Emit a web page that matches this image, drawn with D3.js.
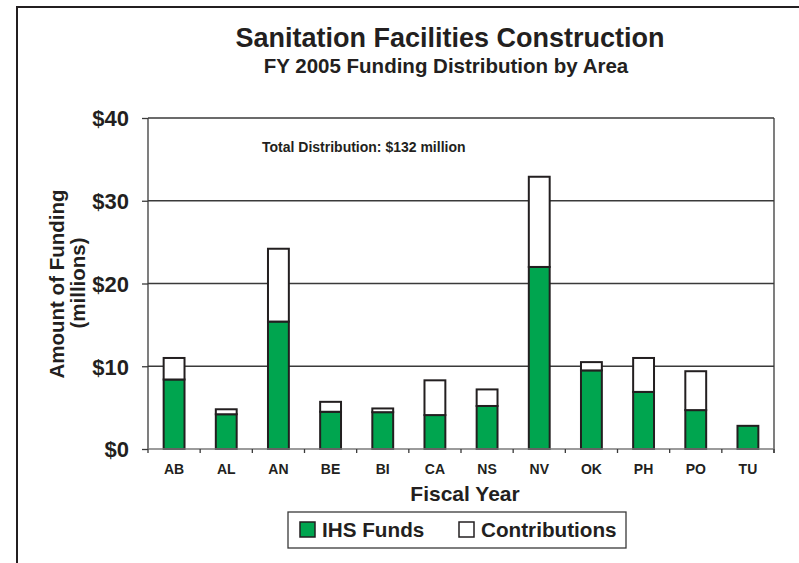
<!DOCTYPE html>
<html>
<head>
<meta charset="utf-8">
<script src="https://cdn.jsdelivr.net/npm/d3@7"></script>
<style>
  body { margin: 0; background: #fff; }
  svg text { font-family: "Liberation Sans", Arial, sans-serif; font-weight: bold; fill: #231f20; }
</style>
</head>
<body>
<div class="chart"></div>
<script>
var areas = ["AB", "AL", "AN", "BE", "BI", "CA", "NS", "NV", "OK", "PH", "PO", "TU"];
var ihsFunds = [8.4, 4.2, 15.4, 4.5, 4.45, 4.1, 5.2, 22.0, 9.5, 6.9, 4.7, 2.8];
var contributions = [2.6, 0.6, 8.8, 1.2, 0.45, 4.2, 2.0, 10.9, 1.0, 4.1, 4.7, 0];
var yTicks = [0, 10, 20, 30, 40];
var seriesNames = ["IHS Funds", "Contributions"];
var seriesColors = ["#00a54f", "#ffffff"];

var svgWidth = 799;
var svgHeight = 563;
var margin = { top: 118, right: 25, bottom: 114, left: 148 };
var width = svgWidth - margin.left - margin.right;
var height = svgHeight - margin.top - margin.bottom;

var svg = d3.select(".chart")
  .append("svg")
  .attr("width", svgWidth)
  .attr("height", svgHeight);

// outer frame (only left and top edges show in the picture)
svg.append("rect")
  .attr("x", 17).attr("y", 7)
  .attr("width", 800).attr("height", 600)
  .attr("fill", "none")
  .attr("stroke", "#231f20")
  .attr("stroke-width", 2);

svg.append("text")
  .attr("x", 450).attr("y", 47)
  .attr("text-anchor", "middle")
  .style("font-size", "27px")
  .text("Sanitation Facilities Construction");

svg.append("text")
  .attr("x", 446).attr("y", 73)
  .attr("text-anchor", "middle")
  .style("font-size", "20.5px")
  .text("FY 2005 Funding Distribution by Area");

var chart = svg.append("g")
  .attr("transform", "translate(" + margin.left + "," + margin.top + ")");

var x = d3.scaleBand()
  .domain(areas)
  .range([0, width])
  .paddingInner(0.6)
  .paddingOuter(0.3);

var y = d3.scaleLinear()
  .domain([0, 40])
  .range([height, 0]);

// grid lines
chart.selectAll(".grid")
  .data(yTicks.filter(function(d) { return d > 0; }))
  .enter().append("line")
    .attr("x1", 0).attr("x2", width)
    .attr("y1", function(d) { return y(d); })
    .attr("y2", function(d) { return y(d); })
    .attr("stroke", "#3a3a3a")
    .attr("stroke-width", 1.3);

// right frame line
chart.append("line")
  .attr("x1", width).attr("x2", width)
  .attr("y1", 0).attr("y2", height + 4)
  .attr("stroke", "#3a3a3a")
  .attr("stroke-width", 1.3);

// stacked bars
var stackData = areas.map(function(a, i) {
  return { area: a, ihs: ihsFunds[i], contrib: contributions[i] };
});
var stacked = d3.stack().keys(["ihs", "contrib"])(stackData);

chart.selectAll(".series")
  .data(stacked)
  .enter().append("g")
    .attr("fill", function(d, i) { return seriesColors[i]; })
  .selectAll("rect")
  .data(function(d) { return d.filter(function(p) { return p[1] - p[0] > 0; }); })
  .enter().append("rect")
    .attr("x", function(d) { return x(d.data.area); })
    .attr("y", function(d) { return y(d[1]); })
    .attr("width", x.bandwidth())
    .attr("height", function(d) { return y(d[0]) - y(d[1]); })
    .attr("stroke", "#231f20")
    .attr("stroke-width", 2);

// y axis
var leftAxis = d3.axisLeft(y)
  .tickValues(yTicks)
  .tickFormat(function(d) { return "$" + d; })
  .tickSize(6)
  .tickPadding(13);

var yAxis = chart.append("g").call(leftAxis);
yAxis.select(".domain").attr("stroke", "#3a3a3a").attr("stroke-width", 1.3)
  .attr("d", "M0," + height + "V0");
yAxis.selectAll(".tick line").attr("stroke", "#3a3a3a").attr("stroke-width", 1.3);
yAxis.selectAll(".tick text")
  .style("font-size", "22px")
  .attr("dy", "0.36em");

// x axis with ticks between categories
var step = x.step();
var boundaries = areas.map(function(a) { return x(a) + x.bandwidth() / 2 - step / 2; });
boundaries.push(width);

var xAxis = chart.append("g").attr("transform", "translate(0," + height + ")");
xAxis.append("line")
  .attr("x1", 0).attr("x2", width)
  .attr("stroke", "#7a7a7a").attr("stroke-width", 1.3);
xAxis.selectAll(".xtick")
  .data(boundaries)
  .enter().append("line")
    .attr("x1", function(d) { return d; })
    .attr("x2", function(d) { return d; })
    .attr("y1", 0).attr("y2", 4)
    .attr("stroke", "#3a3a3a").attr("stroke-width", 1.3);
xAxis.selectAll(".xlabel")
  .data(areas)
  .enter().append("text")
    .attr("x", function(d) { return x(d) + x.bandwidth() / 2; })
    .attr("y", 25)
    .attr("text-anchor", "middle")
    .style("font-size", "14px")
    .text(function(d) { return d; });

// annotation
chart.append("text")
  .attr("x", 262 - margin.left)
  .attr("y", 152 - margin.top)
  .style("font-size", "14px")
  .text("Total Distribution: $132 million");

// axis titles
svg.append("text")
  .attr("transform", "translate(64,284) rotate(-90)")
  .attr("text-anchor", "middle")
  .style("font-size", "20.5px")
  .text("Amount of Funding");
svg.append("text")
  .attr("transform", "translate(85,283) rotate(-90)")
  .attr("text-anchor", "middle")
  .style("font-size", "20.5px")
  .text("(millions)");

svg.append("text")
  .attr("x", 465).attr("y", 501)
  .attr("text-anchor", "middle")
  .style("font-size", "21px")
  .text("Fiscal Year");

// legend
var legend = svg.append("g");
legend.append("rect")
  .attr("x", 288).attr("y", 512)
  .attr("width", 338).attr("height", 36)
  .attr("fill", "#fff")
  .attr("stroke", "#3a3a3a")
  .attr("stroke-width", 1.3);

var legendX = [300, 459];
var legendItems = legend.selectAll(".item")
  .data(seriesNames)
  .enter().append("g")
    .attr("transform", function(d, i) { return "translate(" + legendX[i] + ",522)"; });
legendItems.append("rect")
  .attr("width", 15).attr("height", 15)
  .attr("fill", function(d, i) { return seriesColors[i]; })
  .attr("stroke", "#231f20")
  .attr("stroke-width", 1.5);
legendItems.append("text")
  .attr("x", 22).attr("y", 15)
  .style("font-size", "20.7px")
  .text(function(d) { return d; });
</script>
</body>
</html>
